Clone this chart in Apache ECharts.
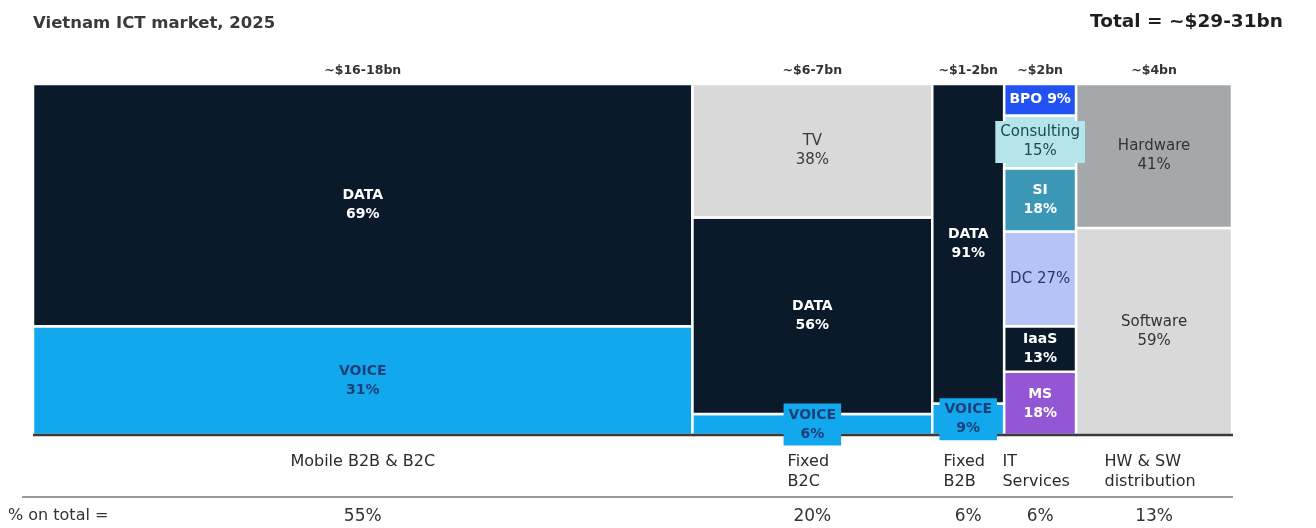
<!DOCTYPE html>
<html><head><meta charset="utf-8">
<script src="https://cdn.jsdelivr.net/npm/echarts@6/dist/echarts.min.js"></script>
<style>html,body{margin:0;padding:0;background:#fff}#c{width:1316px;height:528px}</style>
</head><body><div id="c"></div>
<script>
// ---- data ----
const categories = ['Mobile B2B & B2C', 'Fixed\nB2C', 'Fixed\nB2B', 'IT\nServices', 'HW & SW\ndistribution'];
const shareOfTotal = [55, 20, 6, 6, 13];
const marketSize = ['~$16-18bn', '~$6-7bn', '~$1-2bn', '~$2bn', '~$4bn'];
const mobileSegments = ['VOICE', 'DATA'];
const mobileShares = [31, 69];
const fixedB2CSegments = ['VOICE', 'DATA', 'TV'];
const fixedB2CShares = [6, 56, 38];
const fixedB2BSegments = ['VOICE', 'DATA'];
const fixedB2BShares = [9, 91];
const itSegments = ['MS', 'IaaS', 'DC', 'SI', 'Consulting', 'BPO'];
const itShares = [18, 13, 27, 18, 15, 9];
const hwSwSegments = ['Software', 'Hardware'];
const hwSwShares = [59, 41];
const titleText = 'Vietnam ICT market, 2025';
const totalText = 'Total = ~$29-31bn';
const shareRowLabel = '% on total =';

const segmentNames = [mobileSegments, fixedB2CSegments, fixedB2BSegments, itSegments, hwSwSegments];
const segmentShares = [mobileShares, fixedB2CShares, fixedB2BShares, itShares, hwSwShares];

// ---- styles ----
const FONT = "'DejaVu Sans', Verdana, sans-serif";
const colors = {DATA:'#0b1a2b', VOICE:'#12a8ee', TV:'#d9d9d9', Hardware:'#a4a8ab', Software:'#d9d9d9',
  BPO:'#2352f4', Consulting:'#b4e5ea', SI:'#3c97b7', DC:'#b6c3f6', IaaS:'#0b1a2b', MS:'#9356d4'};
const textColors = {DATA:'#ffffff', VOICE:'#1c3f78', TV:'#3b3b3b', Hardware:'#333333', Software:'#333333',
  BPO:'#ffffff', Consulting:'#1d4a52', SI:'#ffffff', DC:'#27376b', IaaS:'#ffffff', MS:'#ffffff'};
const boldLabel = {DATA:true, VOICE:true, BPO:true, SI:true, IaaS:true, MS:true};
const singleLine = {BPO:true, DC:true};
const SEG_LH = 19;

const mctx = document.createElement('canvas').getContext('2d');
function textW(str, font){ mctx.font = font; return Math.max.apply(null, str.split('\n').map(s => mctx.measureText(s).width)); }

// ---- build ----
const colStart = []; let acc = 0;
shareOfTotal.forEach(s => { colStart.push(acc); acc += s; });
const total = acc;
const segData = [];
segmentNames.forEach((names, i) => {
  let y = 0;
  names.forEach((n, j) => {
    const v = segmentShares[i][j];
    segData.push({value: [colStart[i], colStart[i] + shareOfTotal[i], y, y + v], name: n, pct: v});
    y += v;
  });
});
const colData = categories.map((c, i) => ({value: [colStart[i], colStart[i] + shareOfTotal[i], i]}));

function cell(api){
  const a = api.coord([api.value(0), api.value(3)]);
  const b = api.coord([api.value(1), api.value(2)]);
  return {x: a[0], y: a[1], w: b[0] - a[0], h: b[1] - a[1]};
}

function renderRect(params, api){
  const d = segData[params.dataIndex];
  const c = cell(api);
  return {type: 'rect', shape: {x: c.x, y: c.y, width: c.w, height: c.h},
    style: {fill: colors[d.name], stroke: '#ffffff', lineWidth: 2.5}};
}

function renderLabel(params, api){
  const d = segData[params.dataIndex];
  const c = cell(api);
  const text = d.name + (singleLine[d.name] ? ' ' : '\n') + d.pct + '%';
  const font = boldLabel[d.name] ? ('bold 14px ' + FONT) : ('15px ' + FONT);
  const tw = textW(text, font);
  const th = text.split('\n').length * SEG_LH;
  const needBox = (tw + 6 > c.w) || (th + 2 > c.h);
  return {type: 'text', x: c.x + c.w / 2, y: c.y + c.h / 2,
    style: {text: text, fill: textColors[d.name], font: font, align: 'center', verticalAlign: 'middle',
      lineHeight: SEG_LH, backgroundColor: needBox ? colors[d.name] : 'transparent',
      padding: needBox ? [2, 5] : 0}};
}

function renderCol(params, api){
  const i = api.value(2);
  const a = api.coord([api.value(0), 100]);
  const b = api.coord([api.value(1), 0]);
  const cx = (a[0] + b[0]) / 2;
  const base = b[1];
  const catFont = '16px ' + FONT;
  const cat = categories[i];
  const multi = cat.indexOf('\n') >= 0;
  const cw = textW(cat, catFont);
  const children = [
    {type: 'line', shape: {x1: a[0], y1: base, x2: b[0] + 1, y2: base}, style: {stroke: '#3a3a3a', lineWidth: 2.5}},
    {type: 'text', x: cx, y: a[1] - 13, style: {text: marketSize[i], fill: '#333', font: 'bold 12.5px ' + FONT, align: 'center', verticalAlign: 'middle'}},
    {type: 'text', x: multi ? cx - cw / 2 - 4 : cx, y: base + 17, style: {text: cat, fill: '#2b2b2b', font: catFont, lineHeight: 20, align: multi ? 'left' : 'center', verticalAlign: 'top'}},
    {type: 'line', shape: {x1: i === 0 ? a[0] - 11 : a[0], y1: base + 62, x2: b[0] + 1, y2: base + 62}, style: {stroke: '#9a9a9a', lineWidth: 2}},
    {type: 'text', x: cx, y: base + 82, style: {text: shareOfTotal[i] + '%', fill: '#333', font: '17px ' + FONT, align: 'center', verticalAlign: 'middle'}}
  ];
  return {type: 'group', children: children};
}

const chart = echarts.init(document.getElementById('c'), null, {renderer: 'canvas'});
chart.setOption({
  backgroundColor: '#ffffff',
  animation: false,
  title: [
    {text: titleText, left: 28, top: 10, textStyle: {fontFamily: FONT, fontSize: 16.5, fontWeight: 'bold', color: '#3a3a3a'}},
    {text: totalText, right: 28, top: 8, textStyle: {fontFamily: FONT, fontSize: 18.5, fontWeight: 'bold', color: '#1e1e1e'}}
  ],
  grid: {left: 33, right: 84, top: 84, bottom: 93},
  xAxis: {type: 'value', min: 0, max: total, show: false},
  yAxis: {type: 'value', min: 0, max: 100, show: false},
  graphic: [{type: 'text', left: 8, top: 508, style: {text: shareRowLabel, fill: '#333', font: '16px ' + FONT}}],
  series: [
    {type: 'custom', name: 'segments', z: 2, data: segData, renderItem: renderRect, clip: false},
    {type: 'custom', name: 'columns', z: 3, data: colData, renderItem: renderCol, clip: false},
    {type: 'custom', name: 'labels', z: 4, data: segData, renderItem: renderLabel, clip: false}
  ]
});
</script></body></html>
